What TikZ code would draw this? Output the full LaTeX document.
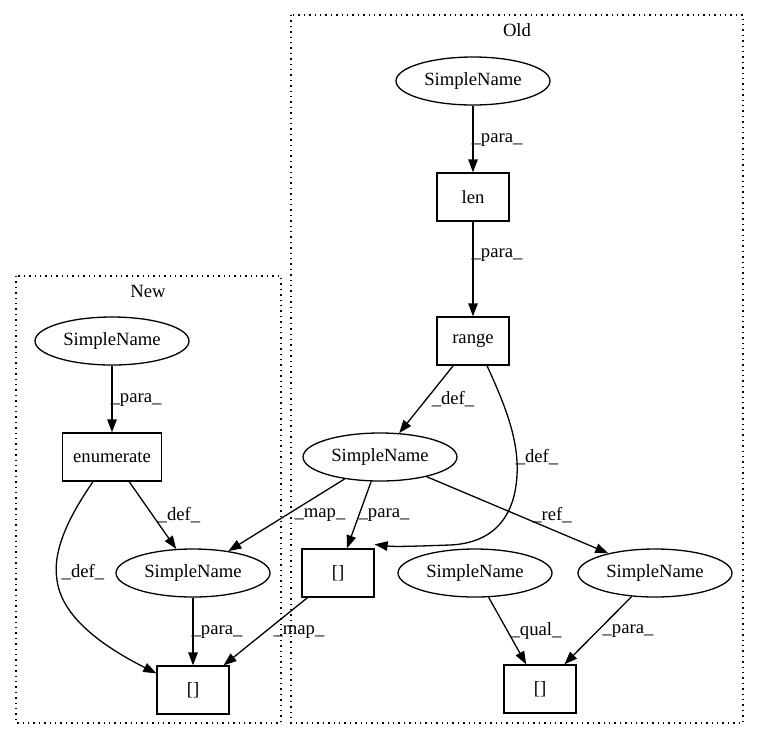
\documentclass[tikz,border=0pt]{standalone}
\usepackage{fontspec}
\setmainfont{Liberation Serif}
\usetikzlibrary{shapes.geometric,arrows.meta}
\begin{document}
\begin{tikzpicture}[x=1pt,y=-1pt,
  every node/.style={font=\fontsize{18.67}{22}\selectfont},
  sname/.style={draw,ellipse,line width=1.3pt,minimum width=154pt,minimum height=48pt,inner sep=0pt},
  sbox/.style={draw,rectangle,line width=1.3pt,minimum width=72pt,minimum height=48pt,inner sep=0pt},
  edge/.style={draw,line width=1.3pt,-{Triangle[length=13pt,width=9.5pt]}},
  elabel/.style={inner sep=0pt},
  cluster/.style={draw,line width=1.3pt,dash pattern=on 1.4pt off 4pt}]
\useasboundingbox (0,0) rectangle (759,740);
% clusters
\draw[cluster] (16,276) rectangle (281,723);
\draw[cluster] (291,15) rectangle (743,723);
\node (lnew) at (148,291) {New};
\node (lold) at (517,30) {Old};
% New nodes
\node[sname] (nsn1) at (112,341) {SimpleName};
\node[sbox,minimum width=99pt] (enum) at (112,457) {enumerate};
\node[sname] (nsn2) at (193,573) {SimpleName};
\node[sbox] (nbr) at (193,690) {[]};
% Old nodes
\node[sname] (osn1) at (473,81) {SimpleName};
\node[sbox] (len) at (473,197) {len};
\node[sbox] (range) at (473,341) {range};
\node[sname] (osn2) at (380,457) {SimpleName};
\node[sbox] (obr1) at (338,573) {[]};
\node[sname] (osn3) at (475,573) {SimpleName};
\node[sname] (osn4) at (655,573) {SimpleName};
\node[sbox] (obr2) at (540,689) {[]};
% edges
\draw[edge] (osn1) -- (len);
\draw[edge] (len) -- (range);
\draw[edge] (range) -- (osn2);
\draw[edge] ([xshift=14pt]range.south) .. controls (505,405) and (519,440) .. (517,475)
   .. controls (515,515) and (495,543) .. (450,545)
   .. controls (420,546) and (395,547) .. ([yshift=4pt]obr1.north east);
\draw[edge] (osn2) -- (obr1);
\draw[edge] (osn2) -- (nsn2);
\draw[edge] (osn2) -- (osn4);
\draw[edge] (osn3) -- (obr2);
\draw[edge] (osn4) -- (obr2);
\draw[edge] (obr1) -- (nbr);
\draw[edge] (nsn1) -- (enum);
\draw[edge] (enum) -- (nsn2);
\draw[edge] ([xshift=-19pt]enum.south) .. controls (70,515) and (52,550) .. (57,580)
   .. controls (62,620) and (110,650) .. ([yshift=-8pt]nbr.north west);
\draw[edge] (nsn2) -- (nbr);
% labels
\node[elabel] (l1) at (497,140) {\_para\_};
\node[elabel] (l2) at (497,255) {\_para\_};
\node[elabel] (l3) at (136,400) {\_para\_};
\node[elabel] (l4) at (453,399) {\_def\_};
\node[elabel] (l5) at (537,457) {\_def\_};
\node[elabel] (l6) at (384,515) {\_para\_};
\node[elabel] (l7) at (320,515) {\_map\_};
\node[elabel] (l8) at (552,515) {\_ref\_};
\node[elabel] (l9) at (536,631) {\_qual\_};
\node[elabel] (l10) at (628,631) {\_para\_};
\node[elabel] (l11) at (299,632) {\_map\_};
\node[elabel] (l12) at (179,515) {\_def\_};
\node[elabel] (l13) at (83,572) {\_def\_};
\node[elabel] (l14) at (217,632) {\_para\_};
\end{tikzpicture}
\end{document}
